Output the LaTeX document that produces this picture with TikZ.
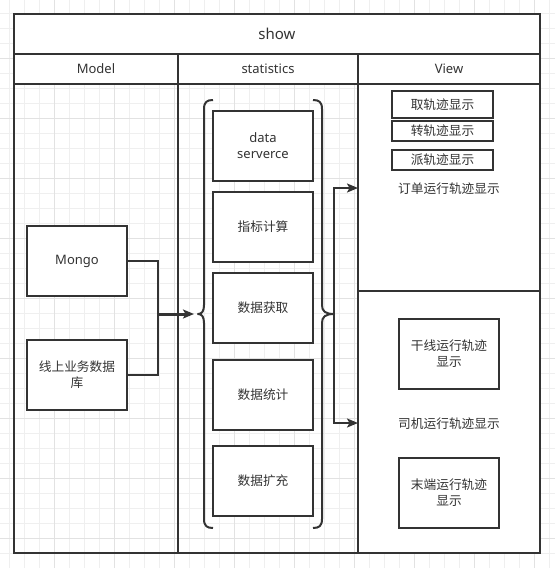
\documentclass[tikz,border=0pt]{standalone}
\usepackage{fontspec}
\setmainfont{Noto Sans}
\newfontfamily\cjk{Noto Sans CJK SC}
\usetikzlibrary{arrows.meta}
\definecolor{ink}{HTML}{333333}
\definecolor{gridminor}{HTML}{EFEFEF}
\definecolor{gridmajor}{HTML}{E2E2E2}
\tikzset{
  frame/.style={draw=ink, line width=2pt},
  box/.style={draw=ink, line width=2pt, fill=white, rectangle, inner sep=0pt, outer sep=0pt, text=ink, align=center, font=\fontsize{13}{16}\selectfont},
  cbox/.style={box, font=\cjk\fontsize{12.7}{15.8}\selectfont},
  lbl/.style={text=ink, inner sep=0pt, align=center, font=\fontsize{13}{16}\selectfont},
  clbl/.style={lbl, font=\cjk\fontsize{12.7}{15.8}\selectfont},
  conn/.style={draw=ink, line width=2pt},
  arr/.style={conn, -{Stealth[length=11pt,width=9pt,inset=2.5pt]}},
  brace/.style={draw=ink, line width=2pt, line join=round}
}
\begin{document}
\begin{tikzpicture}[x=1pt, y=-1pt]
\useasboundingbox (0,0) rectangle (555,568);
\fill[white] (0,0) rectangle (555,568);
% background grid
\foreach \i in {0,...,36} {
  \draw[gridminor, line width=1pt] ({9+15*\i},0) -- ({9+15*\i},568);
  \draw[gridminor, line width=1pt] (0,{13+15*\i}) -- (555,{13+15*\i});
}
\foreach \i in {0,...,8} {
  \draw[gridmajor, line width=1pt] ({54+60*\i},0) -- ({54+60*\i},568);
  \draw[gridmajor, line width=1pt] (0,{58+60*\i}) -- (555,{58+60*\i});
}
% white areas
\fill[white] (14,14) rectangle (540,84);
\fill[white] (358,84) rectangle (540,553);
% frame
\draw[frame] (14,14) rectangle (540,553);
\draw[frame] (14,54) -- (540,54);
\draw[frame] (14,84) -- (540,84);
\draw[frame] (178,54) -- (178,553);
\draw[frame] (358,54) -- (358,553);
\draw[frame] (358,291) -- (540,291);
% titles
\node[lbl, font=\fontsize{15}{18}\selectfont] (show) at (277,34) {show};
\node[lbl] (hmodel) at (96,69) {Model};
\node[lbl] (hstat) at (268,69) {statistics};
\node[lbl] (hview) at (449,69) {View};
% model boxes
\node[box, minimum width=100pt, minimum height=70pt] (mongo) at (77,261) {Mongo};
\node[cbox, minimum width=100pt, minimum height=70pt] (db) at (77,375) {线上业务数据\\库};
% statistics boxes
\node[box, minimum width=100pt, minimum height=70pt] (ds) at (263,146) {data\\serverce};
\node[cbox, minimum width=100pt, minimum height=70pt] (zb) at (263,227) {指标计算};
\node[cbox, minimum width=100pt, minimum height=70pt] (hq) at (263,308) {数据获取};
\node[cbox, minimum width=100pt, minimum height=70pt] (tj) at (263,395) {数据统计};
\node[cbox, minimum width=100pt, minimum height=70pt] (kc) at (263,481) {数据扩充};
% view boxes
\node[cbox, minimum width=101pt, minimum height=27pt] (qu) at (442.5,104.5) {取轨迹显示};
\node[cbox, minimum width=101pt, minimum height=20pt] (zhuan) at (442.5,131) {转轨迹显示};
\node[cbox, minimum width=101pt, minimum height=20pt] (pai) at (442.5,160) {派轨迹显示};
\node[clbl] (order) at (449,189) {订单运行轨迹显示};
\node[cbox, minimum width=100pt, minimum height=70pt] (gx) at (449,354) {干线运行轨迹\\显示};
\node[clbl] (driver) at (449,424) {司机运行轨迹显示};
\node[cbox, minimum width=100pt, minimum height=70pt] (md) at (449,493) {末端运行轨迹\\显示};
% braces
\coordinate (ltip) at (198,314);
\coordinate (rtip) at (334,314);
\draw[brace] (213,100) .. controls (207,100) and (204,102) .. (204,109)
  -- (204,305) .. controls (204,311) and (202,314) .. (ltip)
  .. controls (202,314) and (204,317) .. (204,323)
  -- (204,519) .. controls (204,526) and (207,528) .. (213,528);
\draw[brace] (313,100) .. controls (319,100) and (322,102) .. (322,109)
  -- (322,305) .. controls (322,311) and (325,314) .. (rtip)
  .. controls (325,314) and (322,317) .. (322,323)
  -- (322,519) .. controls (322,526) and (319,528) .. (313,528);
% connectors
\coordinate (merge) at (158,314);
\coordinate (lend) at (194,314);
\coordinate (otarget) at (358,188);
\coordinate (dtarget) at (358,423);
\draw[conn] (mongo.east) -| (merge);
\draw[conn] (db.east) -| (merge);
\draw[arr, line width=3pt] (merge) -- (lend);
\draw[arr] (rtip) |- (otarget);
\draw[arr] (rtip) |- (dtarget);
\end{tikzpicture}
\end{document}
